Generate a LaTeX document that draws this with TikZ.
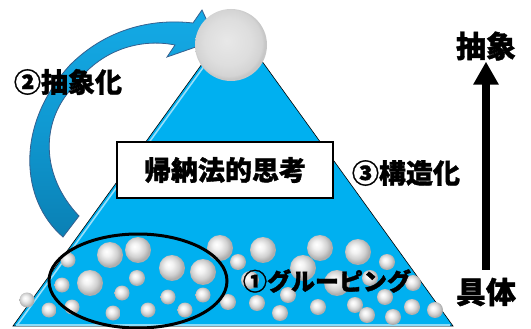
\documentclass[tikz,border=0pt]{standalone}
\usepackage{fontspec}
\newfontfamily\jp{Noto Sans CJK JP}[BoldFeatures={FakeBold=1.3}]
\usetikzlibrary{arrows.meta}
\definecolor{tri}{HTML}{00B0F0}
\definecolor{arrtop}{HTML}{14AAE6}
\definecolor{arrbot}{HTML}{0A80B4}
\definecolor{arrline}{HTML}{35608F}
\pgfdeclareradialshading{pearl}{\pgfpoint{-7bp}{7bp}}{color(0bp)=(white); color(8bp)=(white!95!black); color(18bp)=(white!82!black); color(25bp)=(white!68!black); color(50bp)=(white!68!black)}
\pgfdeclareradialshading{topball}{\pgfpoint{-3bp}{3bp}}{color(0bp)=(white!91!black); color(16bp)=(white!87!black); color(23bp)=(white!83!black); color(25bp)=(white!78!black); color(50bp)=(white!78!black)}
\tikzset{
  lbl/.style={font=\jp\bfseries\fontsize{27}{30}\selectfont, inner sep=0pt},
  biglbl/.style={font=\jp\bfseries\fontsize{30}{32}\selectfont, inner sep=0pt},
  smalllbl/.style={font=\jp\bfseries\fontsize{24}{26}\selectfont, inner sep=0pt},
  ball/.style={shading=pearl},
}
\begin{document}
\begin{tikzpicture}[x=1pt,y=-1pt]
\useasboundingbox (0,0) rectangle (531,329);
% curved arrow
\shade[top color=arrtop, bottom color=arrbot, middle color=arrtop!60!arrbot, draw=arrline, line width=0.8pt]
  (63,237) .. controls (20,200) and (15,125) .. (70,65)
  .. controls (105,30) and (150,18) .. (193,23)
  -- (202,10) -- (216,40) -- (167,57) -- (175,45)
  .. controls (140,38) and (100,50) .. (75,85)
  .. controls (40,120) and (40,175) .. (79,216) -- cycle;
% pyramid
\fill[tri, draw=black, line width=0.6pt] (13,326) -- (233,21) -- (453,326) -- cycle;
\draw[white!60!tri, line width=1.6pt] (17.2,325) -- (236,22);
\draw[white!55!tri, line width=1.4pt] (16,325) -- (450,325);
% top sphere
\shade[shading=topball] (231,45) circle[radius=36pt];
% small spheres
\foreach \x/\y/\r in {110/255/13, 138/250/13, 68/260/7.5, 90/283/13, 62/285/7.5, 137/278/8,
  172/268/13, 203/272/13, 220/248/13, 238/262/8, 263/250/13, 122/293/7.5, 168/297/7.5,
  203/295/7.5, 72/307/7.5, 49/310/7.5, 27/300/7.5, 113/313/7.5, 148/310/7.5, 185/310/7.5,
  228/302/8, 257/303/8, 280/313/8, 288/295/8, 303/268/13, 320/248/13, 358/252/13, 337/283/13,
  318/307/8, 355/305/8, 387/262/8, 413/283/8, 385/297/8, 367/315/8, 393/317/8, 412/307/8,
  435/310/8, 250/280/9, 370/278/8}
  \shade[ball] (\x,\y) circle[radius=\r pt];
% grouping ellipse
\draw[line width=3pt] (138,281) ellipse[x radius=89pt, y radius=47pt];
% labels
\node[lbl] (abst) at (68,82) {②抽象化};
\node[lbl, draw, line width=2pt, fill=white, minimum width=216pt, minimum height=56pt] (ind) at (225,170) {帰納法的思考};
\node[lbl] (struct) at (406,173) {③構造化};
\node[smalllbl] (grp) at (327,281) {①グルーピング};
\node[biglbl] (abs) at (486,46) {抽象};
\node[biglbl] (conc) at (486,292) {具体};
\draw[line width=8pt, -{Triangle[width=24pt,length=23pt]}, shorten <=8pt, shorten >=1pt] (conc.north) -- (abs.south);
\end{tikzpicture}
\end{document}
